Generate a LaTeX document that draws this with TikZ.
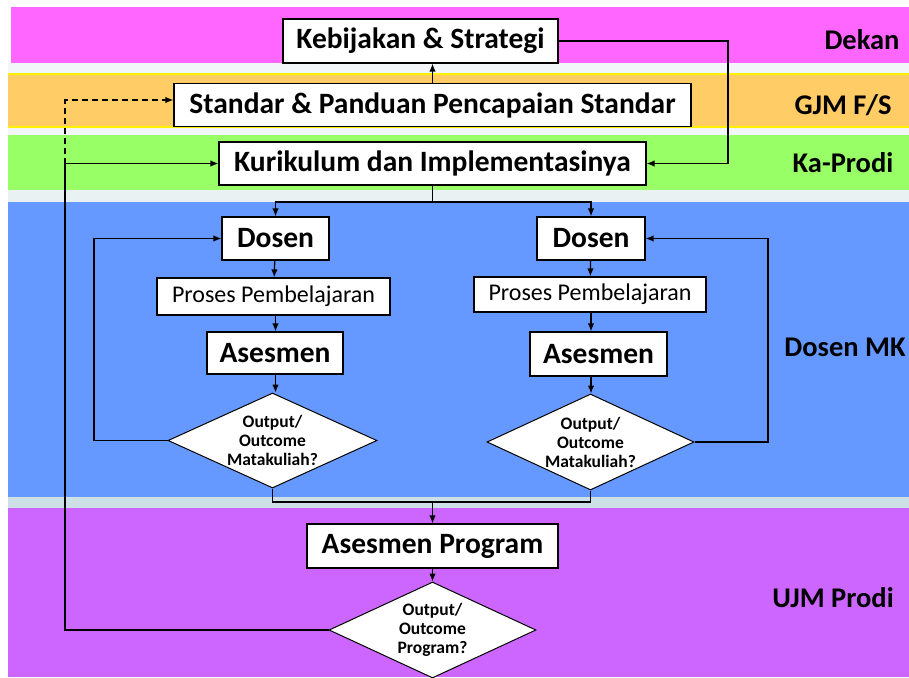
\documentclass[tikz,border=0pt]{standalone}
\usepackage{fontspec}
\setmainfont{Carlito}
\usepackage{tikz}
\usetikzlibrary{positioning}
\usetikzlibrary{shapes.geometric}
\usetikzlibrary{arrows.meta}

\definecolor{dekancol}{HTML}{FF66FF}
\definecolor{gjmcol}{HTML}{FFCC66}
\definecolor{prodicol}{HTML}{99FF66}
\definecolor{dosencol}{HTML}{6699FF}
\definecolor{ujmcol}{HTML}{CC66FF}
\definecolor{gapcol}{HTML}{F3F6F9}
\definecolor{gapcolb}{HTML}{EAF1F2}
\definecolor{gapcolc}{HTML}{CCE0E6}

\begin{document}
\begin{tikzpicture}[
  x=1pt,y=-1pt,
  box/.style={draw,fill=white,line width=1.2pt,inner sep=0pt,align=center,
    font=\bfseries\fontsize{29.5}{34}\selectfont},
  bigbox/.style={box,font=\bfseries\fontsize{29.5}{34}\selectfont},
  thinbox/.style={box,font=\fontsize{24}{28}\selectfont},
  decision/.style={draw,fill=white,diamond,aspect=2.2,line width=1pt,inner sep=0pt,align=center,
    font=\bfseries\fontsize{17.5}{19}\selectfont},
  lane/.style={font=\bfseries\fontsize{28.5}{32}\selectfont},
  link/.style={line width=1.3pt,-{Latex[length=8pt,width=6.5pt]}}
]

% lanes
\useasboundingbox[fill=white] (0,0) rectangle (909,677);
\fill[dekancol] (11,7) rectangle (909,63);
\fill[gapcol] (8,63) rectangle (909,74);
\fill[gjmcol] (8,74) rectangle (909,127);
\draw[yellow,line width=1.2pt] (8,74) -- (909,74) (8,127) -- (909,127);
\fill[gapcol] (8,128) rectangle (909,135);
\fill[prodicol] (8,135) rectangle (909,190);
\fill[gapcolb] (8,190) rectangle (909,202);
\fill[dosencol] (8,202) rectangle (909,497);
\fill[gapcolc] (8,497) rectangle (909,508);
\fill[ujmcol] (8,508) rectangle (909,677);

\node[lane] (dekan) at (862,40) {Dekan};
\node[lane] (gjm) at (843,105) {GJM F/S};
\node[lane] (kaprodi) at (843,163) {Ka-Prodi};
\node[lane] (dosenmk) at (845,347) {Dosen MK};
\node[lane] (ujm) at (833,598) {UJM Prodi};

% nodes
\node[box,minimum width=275,minimum height=44] (kebijakan) at (420.5,41) {Kebijakan \& Strategi};
\node[box,minimum width=517,minimum height=43] (standar) at (432.5,105) {Standar \& Panduan Pencapaian Standar};
\node[box,minimum width=427,minimum height=43] (kurikulum) at (432.5,163.5) {Kurikulum dan Implementasinya};

\node[bigbox,minimum width=107,minimum height=43] (dosenL) at (275.5,238.5) {Dosen};
\node[thinbox,minimum width=233,minimum height=37] (prosesL) at (273.5,296.5) {Proses Pembelajaran};
\node[bigbox,minimum width=136,minimum height=42] (asesmenL) at (275,353) {Asesmen};
\node[decision,minimum width=209,minimum height=95] (cekL) at (272.5,440.5) {Output/\\Outcome\\Matakuliah?};

\node[bigbox,minimum width=108,minimum height=43] (dosenR) at (591,238.5) {Dosen};
\node[thinbox,minimum width=232,minimum height=35] (prosesR) at (590,294.5) {Proses Pembelajaran};
\node[bigbox,minimum width=137,minimum height=44] (asesmenR) at (598.5,354) {Asesmen};
\node[decision,minimum width=207,minimum height=96] (cekR) at (590.5,442) {Output/\\Outcome\\Matakuliah?};

\node[box,minimum width=251,minimum height=44] (program) at (432.5,546) {Asesmen Program};
\node[decision,minimum width=207,minimum height=96] (cekP) at (432.5,630) {Output/\\Outcome\\Program?};

\coordinate (split) at (432.5,202);
\coordinate (merge) at (432.5,502);
\coordinate (loopL) at (94,442);
\coordinate (loopR) at (768,442);
\coordinate (backP) at (65,630);
\coordinate (dashtop) at (65,100);

% connectors
\draw[link] (standar.north) -- (standar.north |- kebijakan.south);
\draw[link] (kebijakan.east) -| (728,163.5) -- (kurikulum.east);
\draw[line width=1.3pt] (kurikulum.south) -- (split);
\draw[link] (split) -| (dosenL.north);
\draw[link] (split) -| (dosenR.north);

\path (dosenL) edge[link] (prosesL)
  (prosesL.south -| dosenL) edge[link] (asesmenL.north -| dosenL)
  (asesmenL.south -| dosenL) edge[link] (cekL.north -| dosenL)
  (dosenR) edge[link] (prosesR)
  (prosesR.south -| dosenR) edge[link] (asesmenR.north -| dosenR)
  (asesmenR.south -| dosenR) edge[link] (cekR.north -| dosenR)
;

\draw[link] (cekL.west) -- (cekL.west -| loopL) |- (dosenL.west);
\draw[link] (cekR.east) -- (cekR.east -| loopR) |- (dosenR.east);

\draw[line width=1.3pt] (cekL.south) |- (merge) -| (cekR.south);
\draw[link] (merge) -- (program.north);
\draw[link] (program) -- (cekP);

\draw[link] (cekP.west) -- (backP) |- (kurikulum.west);
\draw[link,dash pattern=on 6pt off 4pt] (backP |- kurikulum.west) -- (dashtop) -- (dashtop -| standar.west);

\end{tikzpicture}
\end{document}
